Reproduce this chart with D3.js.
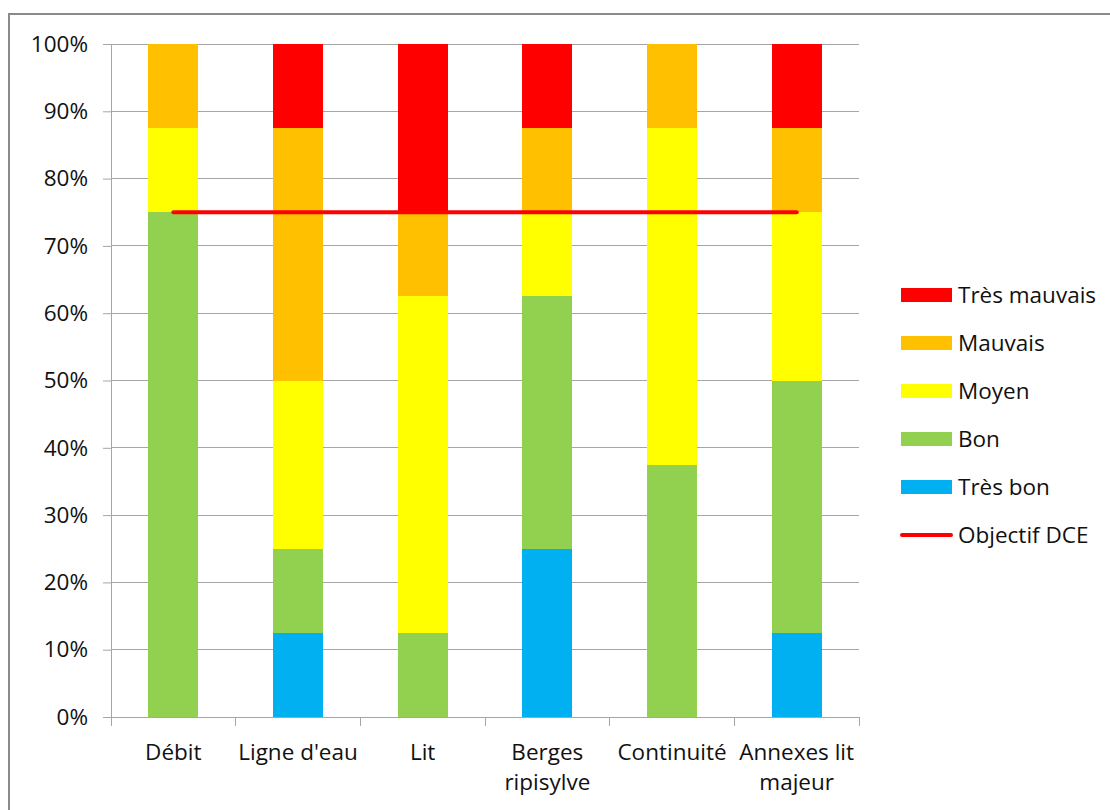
<!DOCTYPE html>
<html>
<head>
<meta charset="utf-8">
<script src="https://cdn.jsdelivr.net/npm/d3@7"></script>
<style>
  body { margin: 0; background: #fff; }
  text { font-family: "Open Sans", "Noto Sans", sans-serif; fill: #111; }
</style>
</head>
<body>
<svg id="chart" width="1110" height="810"></svg>
<script>
// data
const categories = ["Débit", "Ligne d'eau", "Lit", "Berges ripisylve", "Continuité", "Annexes lit majeur"];
const catLines = [["Débit"], ["Ligne d'eau"], ["Lit"], ["Berges", "ripisylve"], ["Continuité"], ["Annexes lit", "majeur"]];
const classes = ["Très bon", "Bon", "Moyen", "Mauvais", "Très mauvais"];
const tresBon     = [0, 12.5, 0, 25, 0, 12.5];
const bon         = [75, 12.5, 12.5, 37.5, 37.5, 37.5];
const moyen       = [12.5, 25, 50, 12.5, 50, 25];
const mauvais     = [12.5, 37.5, 12.5, 12.5, 12.5, 12.5];
const tresMauvais = [0, 12.5, 25, 12.5, 0, 12.5];
const objectifDCE = 75;
const yTicks = [0, 10, 20, 30, 40, 50, 60, 70, 80, 90, 100];
const colors = ["#00B0F0", "#92D050", "#FFFF00", "#FFC000", "#FF0000"];

const svg = d3.select("#chart");
const margin = {left: 111, top: 44, right: 250, bottom: 93};
const width = 859 - margin.left;
const height = 717 - margin.top;
const fs = "22.5px";

// outer frame
svg.append("rect")
  .attr("x", 9).attr("y", 14).attr("width", 1120).attr("height", 820)
  .attr("fill", "none").attr("stroke", "#8a8a8a").attr("stroke-width", 2);

const g = svg.append("g").attr("transform", "translate(" + margin.left + "," + margin.top + ")");

const x = d3.scaleBand().domain(categories).range([0, width]).paddingInner(0.6).paddingOuter(0.3);
const y = d3.scaleLinear().domain([0, 100]).range([height, 0]);

// grid
g.append("g").selectAll("line").data(yTicks).enter().append("line")
  .attr("x1", 0).attr("x2", width)
  .attr("y1", d => y(d)).attr("y2", d => y(d))
  .attr("stroke", "#a6a6a6").attr("stroke-width", 1).attr("shape-rendering", "crispEdges");

// stacked bars
const rows = categories.map((c, i) => ({
  cat: c, "Très bon": tresBon[i], "Bon": bon[i], "Moyen": moyen[i], "Mauvais": mauvais[i], "Très mauvais": tresMauvais[i]
}));
const stack = d3.stack().keys(classes)(rows);
g.append("g").selectAll("g").data(stack).enter().append("g")
  .attr("fill", (d, i) => colors[i])
  .selectAll("rect").data(d => d).enter().append("rect")
  .attr("x", d => x(d.data.cat))
  .attr("width", x.bandwidth())
  .attr("y", d => y(d[1]))
  .attr("height", d => y(d[0]) - y(d[1]))
  .attr("shape-rendering", "crispEdges");

// y axis
const yAxis = g.append("g")
  .call(d3.axisLeft(y).tickValues(yTicks).tickFormat(d => d + "%").tickSize(8).tickPadding(15));
yAxis.select(".domain").attr("stroke", "#a6a6a6");
yAxis.selectAll(".tick line").attr("stroke", "#a6a6a6");
yAxis.selectAll("text").style("font-size", fs).attr("fill", "#111");

// x axis with ticks at band boundaries
g.append("line").attr("x1", 0).attr("x2", width).attr("y1", height).attr("y2", height)
  .attr("stroke", "#a6a6a6").attr("shape-rendering", "crispEdges");
const bounds = d3.range(categories.length + 1).map(i => i * width / categories.length);
g.append("g").selectAll("line").data(bounds).enter().append("line")
  .attr("x1", d => d).attr("x2", d => d).attr("y1", height).attr("y2", height + 9)
  .attr("stroke", "#a6a6a6").attr("shape-rendering", "crispEdges");

const labels = g.append("g").selectAll("text").data(categories).enter().append("text")
  .attr("x", d => x(d) + x.bandwidth() / 2)
  .attr("y", height + 43)
  .attr("text-anchor", "middle")
  .style("font-size", fs);
labels.each(function(d, i) {
  const t = d3.select(this);
  catLines[i].forEach((ln, j) => {
    t.append("tspan").attr("x", x(d) + x.bandwidth() / 2).attr("dy", j === 0 ? 0 : 30).text(ln);
  });
});

// objectif line
const line = d3.line().x(d => x(d) + x.bandwidth() / 2).y(() => y(objectifDCE));
g.append("path").datum([categories[0], categories[categories.length - 1]])
  .attr("d", line).attr("stroke", "#FF0000").attr("stroke-width", 4)
  .attr("stroke-linecap", "round").attr("fill", "none");

// legend
const legendItems = classes.slice().reverse();
const legendColors = colors.slice().reverse();
const legend = svg.append("g").attr("transform", "translate(901,295)");
legendItems.forEach((name, i) => {
  const row = legend.append("g").attr("transform", "translate(0," + (i * 48) + ")");
  row.append("rect").attr("x", 0).attr("y", -7).attr("width", 51).attr("height", 14).attr("fill", legendColors[i]);
  row.append("text").attr("x", 57).attr("y", 0).attr("dy", "0.35em").style("font-size", fs).text(name);
});
const lrow = legend.append("g").attr("transform", "translate(0," + (5 * 48) + ")");
lrow.append("line").attr("x1", 1).attr("x2", 50).attr("y1", 0).attr("y2", 0)
  .attr("stroke", "#FF0000").attr("stroke-width", 4).attr("stroke-linecap", "round");
lrow.append("text").attr("x", 57).attr("y", 0).attr("dy", "0.35em").style("font-size", fs).text("Objectif DCE");
</script>
</body>
</html>
